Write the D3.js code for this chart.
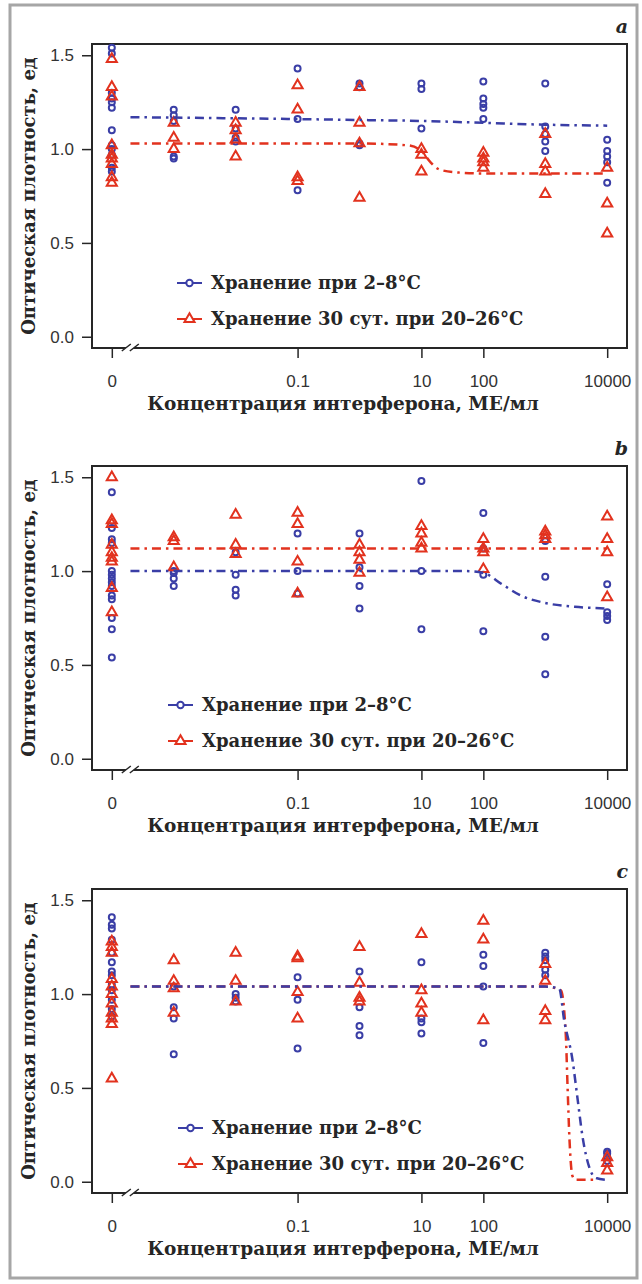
<!DOCTYPE html>
<html>
<head>
<meta charset="utf-8">
<script src="https://cdn.jsdelivr.net/npm/d3@7"></script>
<style>
  body { margin: 0; background: #fff; }
  svg { display: block; }
</style>
</head>
<body>
<div id="chart"></div>
<script>
// concentrations (0 is drawn at the axis break, 1e-4)
var concs = [0, 0.001, 0.01, 0.1, 1, 10, 100, 1000, 10000];
var concTicks = [0, 0.1, 10, 100, 10000];
var concTickLabels = ['0', '0.1', '10', '100', '10000'];
var odTicks = [0, 0.5, 1.0, 1.5];
var seriesNames = ['Хранение при 2–8°C', 'Хранение 30 сут. при 20–26°C'];
var panelLetters = ['a', 'b', 'c'];

// optical density per concentration, panel a
var aCold = [
    [1.54, 1.51, 1.30, 1.27, 1.25, 1.22, 1.10, 1.02, 1.00, 0.97, 0.90, 0.88],
    [1.21, 1.18, 1.15, 0.96, 0.95],
    [1.21, 1.11, 1.06, 1.04],
    [1.43, 1.16, 0.78],
    [1.35, 1.33, 1.03, 1.02],
    [1.35, 1.32, 1.11],
    [1.36, 1.27, 1.24, 1.22, 1.16],
    [1.35, 1.12, 1.08, 1.04, 0.99],
    [1.05, 0.99, 0.96, 0.93, 0.82]
];
var aWarm = [
    [1.48, 1.33, 1.28, 1.02, 0.97, 0.95, 0.92, 0.85, 0.82],
    [1.14, 1.06, 1.00],
    [1.14, 1.10, 1.05, 0.96],
    [1.34, 1.21, 0.85, 0.83],
    [1.33, 1.14, 1.03, 0.74],
    [1.00, 0.97, 0.88],
    [0.98, 0.95, 0.93, 0.90],
    [1.08, 0.92, 0.88, 0.76],
    [0.90, 0.71, 0.55]
];
// panel b
var bCold = [
    [1.42, 1.23, 1.17, 1.15, 1.00, 0.98, 0.96, 0.94, 0.92, 0.87, 0.85, 0.75, 0.69, 0.54],
    [1.00, 0.99, 0.96, 0.92],
    [1.10, 0.98, 0.90, 0.87],
    [1.20, 1.00, 0.88],
    [1.20, 1.02, 0.92, 0.80],
    [1.48, 1.00, 0.69],
    [1.31, 1.12, 0.98, 0.68],
    [1.16, 0.97, 0.65, 0.45],
    [0.93, 0.78, 0.76, 0.74]
];
var bWarm = [
    [1.50, 1.27, 1.25, 1.14, 1.10, 1.07, 1.05, 0.91, 0.78],
    [1.18, 1.16, 1.02],
    [1.30, 1.14, 1.09],
    [1.31, 1.25, 1.05, 0.88],
    [1.14, 1.10, 1.06, 0.99],
    [1.24, 1.20, 1.15, 1.12],
    [1.17, 1.12, 1.10, 1.01],
    [1.21, 1.19, 1.17],
    [1.29, 1.17, 1.10, 0.86]
];
// panel c
var cCold = [
    [1.41, 1.37, 1.35, 1.29, 1.22, 1.17, 1.12, 1.10, 1.05, 1.02, 0.97, 0.92, 0.88],
    [1.04, 0.93, 0.87, 0.68],
    [1.00, 0.98, 0.96],
    [1.09, 0.97, 0.71],
    [1.12, 0.93, 0.83, 0.78],
    [1.17, 0.87, 0.85, 0.79],
    [1.21, 1.15, 1.04, 0.74],
    [1.22, 1.20, 1.18, 1.13, 1.10],
    [0.16, 0.15, 0.13, 0.11]
];
var cWarm = [
    [1.28, 1.25, 1.22, 1.08, 1.04, 1.00, 0.95, 0.90, 0.87, 0.84, 0.55],
    [1.18, 1.07, 1.03, 0.90],
    [1.22, 1.07, 0.96],
    [1.20, 1.19, 1.01, 0.87],
    [1.25, 1.06, 0.98, 0.96],
    [1.32, 1.02, 0.95, 0.90],
    [1.39, 1.29, 0.86],
    [1.16, 1.07, 0.91, 0.86],
    [0.13, 0.10, 0.06]
];

// fitted curves, [concentration, density]
var aColdFit = [[0.0002, 1.17], [0.1, 1.16], [1, 1.155], [10, 1.15], [100, 1.14], [1000, 1.13], [10000, 1.125]];
var aWarmFit = [[0.0002, 1.03], [1, 1.03], [6, 1.02], [10, 0.99], [14, 0.93], [20, 0.89], [40, 0.875], [100, 0.87], [10000, 0.87]];
var bColdFit = [[0.0002, 1.00], [10, 1.00], [50, 1.00], [100, 0.99], [200, 0.93], [400, 0.87], [1000, 0.83], [3000, 0.81], [10000, 0.80]];
var bWarmFit = [[0.0002, 1.12], [10000, 1.12]];
var cColdFit = [[0.0002, 1.04], [1000, 1.04], [1680, 1.03], [2020, 0.86], [2750, 0.65], [3300, 0.45], [4000, 0.24], [5100, 0.08], [6600, 0.02], [10000, 0.01]];
var cWarmFit = [[0.0002, 1.04], [1000, 1.04], [1790, 1.02], [2140, 0.79], [2290, 0.51], [2450, 0.24], [2750, 0.03], [3100, 0.01], [6600, 0.01]];

var blue = '#3a3ea6',
    red = '#e2321e',
    ink = '#262626',
    serif = '"DejaVu Serif", serif',
    sans = '"Liberation Sans", Arial, sans-serif';

var width = 642, height = 1284;
var frame = { left: 92, right: 627, height: 304 };
var panelTops = [44, 466, 889];
var legendLeft = [177, 168, 178];

var panels = [
    { cold: aCold, warm: aWarm, coldFit: aColdFit, warmFit: aWarmFit },
    { cold: bCold, warm: bWarm, coldFit: bColdFit, warmFit: bWarmFit },
    { cold: cCold, warm: cWarm, coldFit: cColdFit, warmFit: cWarmFit }
];

var svg = d3.select('#chart')
    .append('svg')
    .attr('width', width)
    .attr('height', height);

svg.append('rect')
    .attr('width', width)
    .attr('height', height)
    .attr('fill', '#fff');

// outer grey border
svg.append('rect')
    .attr('x', 10)
    .attr('y', 5)
    .attr('width', 627)
    .attr('height', 1273)
    .attr('fill', 'none')
    .attr('stroke', '#a6a6a6')
    .attr('stroke-width', 3);

// zero sits at the break, one decade below 0.001
var xPos = function(c) { return c === 0 ? 1e-4 : c; };

var x = d3.scaleLog()
    .domain([Math.pow(10, -4.32), Math.pow(10, 4.32)])
    .range([frame.left, frame.right]);

var triangle = d3.symbol().type(d3.symbolTriangle).size(44);

function flatten(cols) {
    var out = [];
    cols.forEach(function(vals, i) {
        vals.forEach(function(v) {
            out.push({ c: concs[i], v: v });
        });
    });
    return out;
}

panels.forEach(function(p, i) {
    var top = panelTops[i],
        bottom = top + frame.height;

    var y = d3.scaleLinear()
        .domain([-0.06, 1.56])
        .range([bottom, top]);

    var g = svg.append('g');

    // y axis
    var yAxis = g.append('g')
        .attr('transform', 'translate(' + frame.left + ',0)')
        .call(d3.axisLeft(y)
            .tickValues(odTicks)
            .tickFormat(d3.format('.1f'))
            .tickSize(10)
            .tickPadding(8));
    yAxis.select('.domain').remove();
    yAxis.selectAll('line').attr('stroke', ink).attr('stroke-width', 1.5);
    yAxis.selectAll('text')
        .attr('fill', '#333')
        .style('font-family', sans)
        .style('font-size', '17px');

    // x axis
    var xAxis = g.append('g')
        .attr('transform', 'translate(0,' + bottom + ')')
        .call(d3.axisBottom(x)
            .tickValues(concTicks.map(xPos))
            .tickFormat(function(d, k) { return concTickLabels[k]; })
            .tickSize(10)
            .tickPadding(17));
    xAxis.select('.domain').remove();
    xAxis.selectAll('line').attr('stroke', ink).attr('stroke-width', 1.5);
    xAxis.selectAll('text')
        .attr('fill', '#333')
        .style('font-family', sans)
        .style('font-size', '17px');

    // frame
    g.append('rect')
        .attr('x', frame.left)
        .attr('y', top)
        .attr('width', frame.right - frame.left)
        .attr('height', frame.height)
        .attr('fill', 'none')
        .attr('stroke', ink)
        .attr('stroke-width', 2);

    // axis break on the x axis
    var bx = x(1e-4) + 10;
    g.append('polygon')
        .attr('points', [[bx, bottom + 3], [bx + 9, bottom - 4], [bx + 17, bottom - 4], [bx + 8, bottom + 3]].join(' '))
        .attr('fill', '#fff');
    g.append('path')
        .attr('d', 'M' + bx + ',' + (bottom + 3) + 'L' + (bx + 9) + ',' + (bottom - 4) +
            'M' + (bx + 8) + ',' + (bottom + 3) + 'L' + (bx + 17) + ',' + (bottom - 4))
        .attr('stroke', ink)
        .attr('stroke-width', 1.5)
        .attr('fill', 'none');

    // points
    g.append('g')
        .selectAll('circle')
        .data(flatten(p.cold))
        .enter()
        .append('circle')
        .attr('cx', function(d) { return x(xPos(d.c)); })
        .attr('cy', function(d) { return y(d.v); })
        .attr('r', 3)
        .attr('fill', 'none')
        .attr('stroke', blue)
        .attr('stroke-width', 2);

    g.append('g')
        .selectAll('path')
        .data(flatten(p.warm))
        .enter()
        .append('path')
        .attr('d', triangle)
        .attr('transform', function(d) {
            return 'translate(' + x(xPos(d.c)) + ',' + y(d.v) + ')';
        })
        .attr('fill', 'none')
        .attr('stroke', red)
        .attr('stroke-width', 2)
        .attr('stroke-linejoin', 'miter');

    // fitted curves
    var line = d3.line()
        .x(function(d) { return x(d[0]); })
        .y(function(d) { return y(d[1]); })
        .curve(d3.curveMonotoneX);

    g.append('path')
        .attr('d', line(p.warmFit))
        .attr('fill', 'none')
        .attr('stroke', red)
        .attr('stroke-width', 2.5)
        .attr('stroke-dasharray', '9,5,2.5,5');

    g.append('path')
        .attr('d', line(p.coldFit))
        .attr('fill', 'none')
        .attr('stroke', blue)
        .attr('stroke-width', 2.5)
        .attr('stroke-dasharray', '9,5,2.5,5');

    // legend
    var lx = legendLeft[i];
    [0, 1].forEach(function(k) {
        var ly = top + 239 + k * 36,
            col = k === 0 ? blue : red;
        g.append('line')
            .attr('x1', lx)
            .attr('x2', lx + 25)
            .attr('y1', ly)
            .attr('y2', ly)
            .attr('stroke', col)
            .attr('stroke-width', 2);
        if (k === 0) {
            g.append('circle')
                .attr('cx', lx + 12.5)
                .attr('cy', ly)
                .attr('r', 3.2)
                .attr('fill', '#fff')
                .attr('stroke', col)
                .attr('stroke-width', 2);
        } else {
            g.append('path')
                .attr('d', triangle)
                .attr('transform', 'translate(' + (lx + 12.5) + ',' + ly + ')')
                .attr('fill', '#fff')
                .attr('stroke', col)
                .attr('stroke-width', 2);
        }
        g.append('text')
            .attr('x', lx + 34)
            .attr('y', ly + 6)
            .attr('fill', ink)
            .style('font-family', serif)
            .style('font-weight', 'bold')
            .style('font-size', '18px')
            .text(seriesNames[k]);
    });

    // panel letter
    g.append('text')
        .attr('x', 628)
        .attr('y', top - 11)
        .attr('text-anchor', 'end')
        .attr('fill', ink)
        .style('font-family', serif)
        .style('font-weight', 'bold')
        .style('font-style', 'italic')
        .style('font-size', '19px')
        .text(panelLetters[i]);

    // axis titles
    g.append('text')
        .attr('x', 343)
        .attr('y', bottom + 62)
        .attr('text-anchor', 'middle')
        .attr('fill', ink)
        .style('font-family', serif)
        .style('font-weight', 'bold')
        .style('font-size', '18.5px')
        .text('Концентрация интерферона, МЕ/мл');

    g.append('text')
        .attr('transform', 'translate(35,' + (top + 152) + ') rotate(-90)')
        .attr('text-anchor', 'middle')
        .attr('fill', ink)
        .style('font-family', serif)
        .style('font-weight', 'bold')
        .style('font-size', '18px')
        .text('Оптическая плотность, ед');
});
</script>
</body>
</html>
